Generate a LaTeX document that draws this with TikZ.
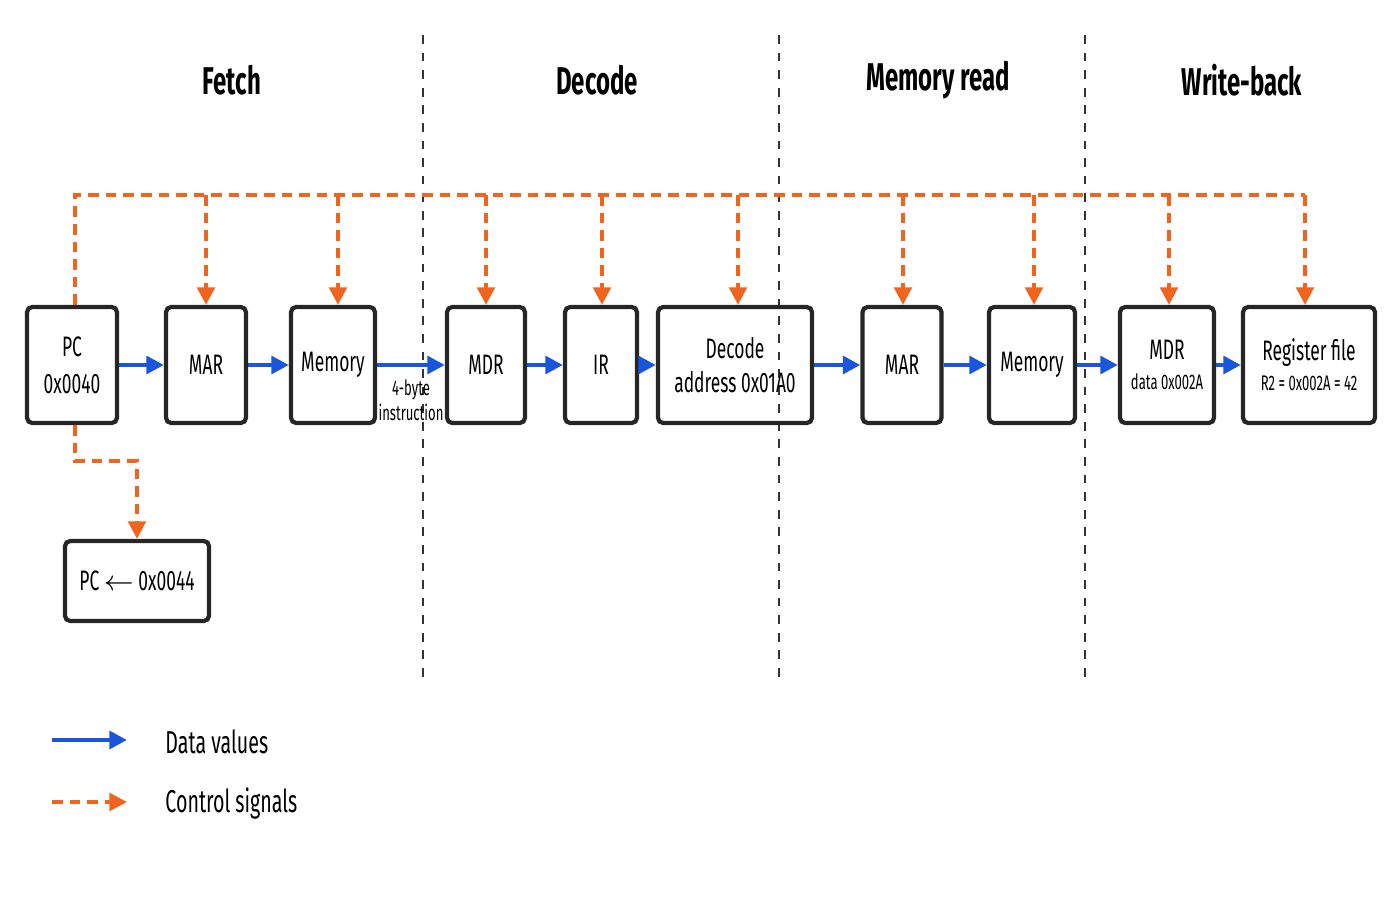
\documentclass[tikz,border=0pt]{standalone}
\usepackage{fontspec}
\setmainfont{Fira Sans}[FakeStretch=0.62]
\usetikzlibrary{arrows.meta}
\usetikzlibrary{positioning}
\definecolor{data-blue}{RGB}{26, 86, 219}
\definecolor{ctrl-orange}{RGB}{240, 100, 30}
\tikzset{
  unit/.style={draw=black!85, line width=1.2pt, rounded corners=1.5pt, align=center,
               font=\fontsize{8}{9.5}\selectfont, inner sep=0pt, minimum height=1.16cm},
  data/.style={data-blue, line width=1.3pt, -{Triangle[length=5pt,width=5pt]}},
  ctrl/.style={ctrl-orange, line width=1pt, dash pattern=on 3pt off 2pt, -{Triangle[length=5pt,width=5pt]}},
  stage/.style={font=\fontsize{11}{13}\selectfont\bfseries},
  sep/.style={black!80, line width=0.6pt, dash pattern=on 2.5pt off 2.5pt}
}
\begin{document}
\begin{tikzpicture}[x=0.01cm, y=-0.01cm]
  \useasboundingbox (0,0) rectangle (1400,900);
  % stages
  \node[stage] (fetch) at (232,80) {Fetch};
  \node[stage] (decode) at (597,80) {Decode};
  \node[stage] (memread) at (938,80) {Memory read};
  \node[stage] (writeback) at (1242,80) {Write-back};
  \foreach \x in {423,779,1085}
    \draw[sep] (\x,35) -- (\x,680);
  % units
  \node[unit, minimum width=0.9cm] (pc) at (72,365) {PC\\[1pt]0x0040};
  \node[unit, minimum width=0.8cm] (mar1) at (206,365) {MAR};
  \node[unit, minimum width=0.84cm] (mem1) at (333,365) {Memory};
  \node[unit, minimum width=0.78cm] (mdr1) at (486,365) {MDR};
  \node[unit, minimum width=0.72cm] (ir) at (601,365) {IR};
  \node[unit, minimum width=1.54cm] (dec) at (735,365) {Decode\\[0pt]address 0x01A0};
  \node[unit, minimum width=0.79cm] (mar2) at (902,365) {MAR};
  \node[unit, minimum width=0.86cm] (mem2) at (1032,365) {Memory};
  \node[unit, minimum width=0.94cm] (mdr2) at (1167,365) {MDR\\[-1pt]{\fontsize{6}{7}\selectfont data 0x002A}};
  \node[unit, minimum width=1.32cm] (regs) at (1309,365) {Register file\\[-1pt]{\fontsize{6}{7}\selectfont R2 = 0x002A = 42}};
  \node[unit, minimum width=1.44cm, minimum height=0.8cm] (pcinc) at (137,581) {PC $\leftarrow$ 0x0044};
  \node[font=\fontsize{6}{7}\selectfont, align=center, inner sep=1pt] (instr) at (411,400) {4-byte\\instruction};
  % data path
  \draw[data] (pc) -- (mar1);
  \draw[data] (mar1) -- (mem1);
  \draw[data] (mem1) -- (mdr1);
  \draw[data] (mdr1) -- (ir);
  \draw[data] (ir) -- (dec);
  \draw[data] (dec) -- (mar2);
  \draw[data] (mar2) -- (mem2);
  \draw[data] (mem2) -- (mdr2);
  \draw[data] (mdr2) -- (regs);
  % control signals
  \coordinate (bus-l) at (75,195);
  \coordinate (bus-r) at (1305,195);
  \draw[ctrl, -] (pc.north -| bus-l) -- (bus-l) -- (bus-r);
  \foreach \n/\x in {mar1/206, mem1/338, mdr1/486, ir/602, dec/738, mar2/903, mem2/1034, mdr2/1169, regs/1305} {
    \coordinate (tap) at (\x,195);
    \draw[ctrl] (tap) -- (tap |- \n.north);
  }
  \coordinate (turn) at (75,461);
  \draw[ctrl] (pc.south -| turn) -- (turn) -| (pcinc.north);
  % legend
  \coordinate (ld1) at (52,740);
  \coordinate (ld2) at (127,740);
  \coordinate (lc1) at (52,802);
  \coordinate (lc2) at (127,802);
  \node[anchor=west, font=\fontsize{9}{11}\selectfont] (ldtxt) at (153,742) {Data values};
  \node[anchor=west, font=\fontsize{9}{11}\selectfont] (lctxt) at (153,804) {Control signals};
  \draw[data] (ld1) -- (ld2);
  \draw[ctrl] (lc1) -- (lc2);
\end{tikzpicture}
\end{document}
